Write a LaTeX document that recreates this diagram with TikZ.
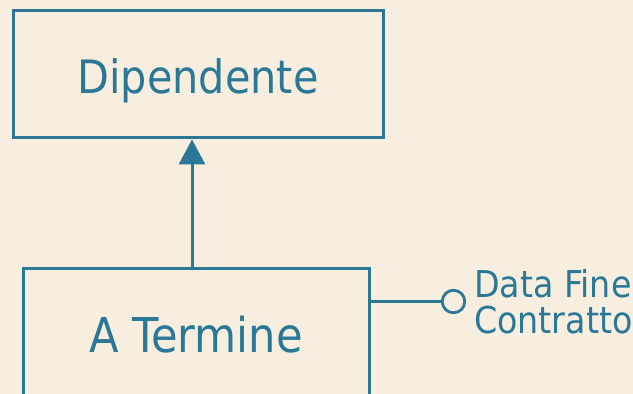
\documentclass[tikz,border=0pt]{standalone}
\usepackage{fontspec}
\setmainfont{DejaVu Sans Condensed}
\usetikzlibrary{arrows.meta}
\definecolor{teal1}{HTML}{2A7896}
\definecolor{bg}{HTML}{F7EEE0}
\begin{document}
\begin{tikzpicture}[x=1pt,y=-1pt,
  entity/.style={draw=teal1,line width=3pt,text=teal1,inner sep=0pt,text depth=0pt},
  lollipop/.style={draw=teal1,line width=2.8pt,circle,minimum size=22.5pt,inner sep=0pt},
  conn/.style={draw=teal1,line width=3pt},
  attr/.style={anchor=base west,text=teal1,inner sep=0pt,font=\fontsize{37}{36}\selectfont}]
\fill[bg] (0,0) rectangle (633,394);
\useasboundingbox (0,0) rectangle (633,394);
\node[entity,minimum width=370pt,minimum height=127.5pt,text height=38pt,font=\fontsize{46}{54}\selectfont] (d) at (198,74.2) {Dipendente};
\node[entity,minimum width=346.5pt,minimum height=130pt,text height=37pt,font=\fontsize{48}{54}\selectfont] (t) at (196.25,333.5) {A Termine};
\coordinate (ax) at (192,0);
\draw[conn,-{Triangle[width=26pt,length=25pt]}] (ax |- t.north) -- (ax |- d.south);
\node[lollipop] (c) at (453.5,301.5) {};
\draw[conn] (t.east |- c) -- (c.west);
\node[attr] (l1) at (474,297) {Data Fine};
\node[attr] (l2) at ([yshift=-36pt]l1.base west) {Contratto};
\end{tikzpicture}
\end{document}
